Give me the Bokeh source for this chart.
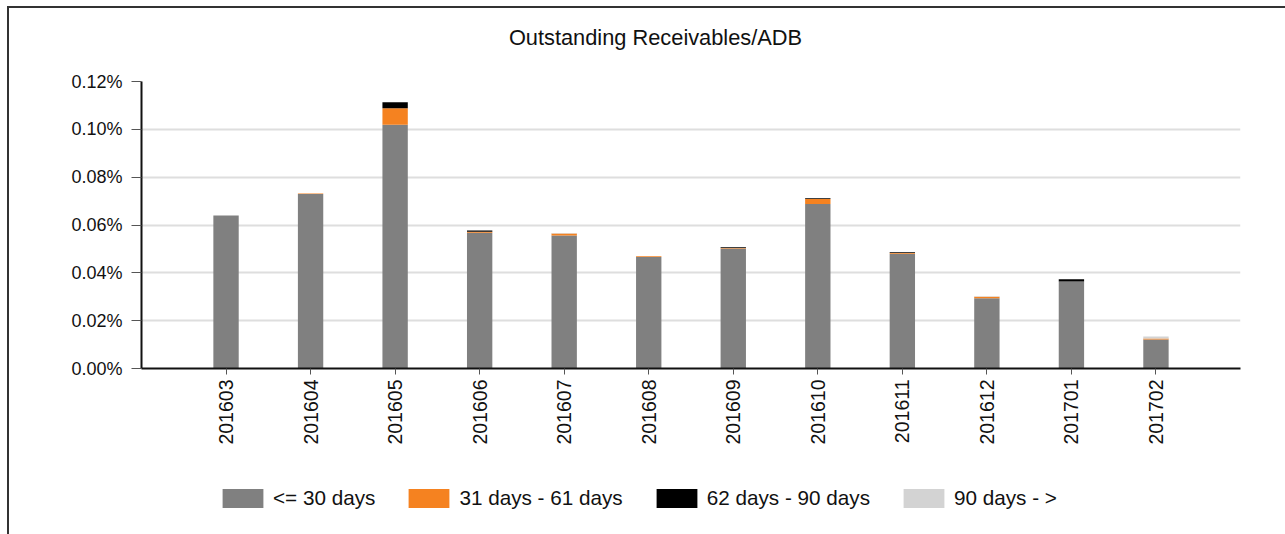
import math
from bokeh.plotting import figure
from bokeh.layouts import column
from bokeh.models import (FactorRange, Range1d, FixedTicker, PrintfTickFormatter,
                          Legend, LegendItem, Label)
from bokeh.embed import file_html
from bokeh.resources import INLINE

# ---- data (values in percent) ----
categories = ["201603", "201604", "201605", "201606", "201607", "201608",
              "201609", "201610", "201611", "201612", "201701", "201702"]
series_names = ["<= 30 days", "31 days - 61 days", "62 days - 90 days", "90 days - >"]
le_30 = [0.0640, 0.0730, 0.1019, 0.0568, 0.0556, 0.0466, 0.0502, 0.0688, 0.0480, 0.0294, 0.0364, 0.0121]
d31_61 = [0.0000, 0.0002, 0.0069, 0.0004, 0.0008, 0.0003, 0.0002, 0.0021, 0.0003, 0.0006, 0.0000, 0.0004]
d62_90 = [0.0000, 0.0000, 0.0025, 0.0005, 0.0000, 0.0000, 0.0003, 0.0003, 0.0003, 0.0000, 0.0009, 0.0000]
d90_up = [0.0000, 0.0000, 0.0000, 0.0000, 0.0003, 0.0000, 0.0000, 0.0000, 0.0000, 0.0002, 0.0000, 0.0009]
y_ticks = [0.0, 0.02, 0.04, 0.06, 0.08, 0.10, 0.12]
colors = ["#808080", "#f58220", "#000000", "#d3d3d3"]
title_text = "Outstanding Receivables/ADB"

FONT = "Liberation Sans"
keys = ["s0", "s1", "s2", "s3"]
source = dict(cat=categories, s0=le_30, s1=d31_61, s2=d62_90, s3=d90_up)

W = 1276
H0 = 63     # title strip
H1 = 387    # chart
H2 = 76     # legend strip


def strip(height, x_range, y_range):
    f = figure(width=W, height=height, output_backend="svg", toolbar_location=None,
               x_axis_type=None, y_axis_type=None, x_range=x_range, y_range=y_range,
               min_border=0)
    f.outline_line_color = None
    f.grid.grid_line_color = None
    f.background_fill_color = "white"
    f.border_fill_color = "white"
    return f


# ---- title strip (page pixel coordinates) ----
p0 = strip(H0, Range1d(141, 1240), Range1d(8 + H0, 8))
p0.add_layout(Label(x=655, y=37, text=title_text, text_align="center",
                    text_baseline="middle", text_font=FONT, text_font_size="21.8px",
                    text_color="#111111"))

# ---- main chart ----
p = figure(width=W, height=H1, output_backend="svg", toolbar_location=None,
           x_range=FactorRange(factors=categories, range_padding=0.5,
                               range_padding_units="absolute"),
           y_range=Range1d(0, 0.12),
           min_border_left=132, min_border_right=45,
           min_border_top=10, min_border_bottom=H1 - 10 - 287)
p.outline_line_color = None
p.background_fill_color = "white"
p.border_fill_color = "white"

rs = p.vbar_stack(keys, x="cat", width=0.3, color=colors, line_color=None,
                  source=source)

p.yaxis.ticker = FixedTicker(ticks=y_ticks)
p.yaxis.formatter = PrintfTickFormatter(format="%.2f%%")
p.yaxis.axis_line_color = "#111111"
p.yaxis.axis_line_width = 2
p.yaxis.major_tick_line_color = "#555555"
p.yaxis.major_tick_out = 10
p.yaxis.major_tick_in = 0
p.yaxis.minor_tick_line_color = None
p.yaxis.major_label_text_font = FONT
p.yaxis.major_label_text_font_size = "18px"
p.yaxis.major_label_text_color = "#111111"
p.yaxis.major_label_standoff = 9

p.xaxis.axis_line_color = "#111111"
p.xaxis.axis_line_width = 2
p.xaxis.major_tick_line_color = "#555555"
p.xaxis.major_tick_out = 6
p.xaxis.major_tick_in = 0
p.xaxis.minor_tick_line_color = None
p.xaxis.major_label_orientation = math.pi / 2
p.xaxis.major_label_text_font = FONT
p.xaxis.major_label_text_font_size = "19.5px"
p.xaxis.major_label_text_color = "#111111"
p.xaxis.major_label_standoff = 5

p.xgrid.grid_line_color = None
p.ygrid.grid_line_color = "#dedede"
p.ygrid.grid_line_width = 2

# ---- legend strip (bars drawn from the same data lie below its visible y range) ----
p2 = strip(H2, FactorRange(factors=categories), Range1d(1, 2))
proxies = p2.vbar_stack(keys, x="cat", width=0.3, color=colors, line_color=None,
                        source=source)
legend = Legend(items=[LegendItem(label=n, renderers=[r]) for n, r in zip(series_names, proxies)],
                orientation="horizontal", location=(76, 24),
                padding=0, margin=0, spacing=28, label_standoff=5,
                glyph_width=51, glyph_height=24, label_height=24,
                border_line_color=None, background_fill_alpha=0,
                label_text_font=FONT, label_text_font_size="20.7px",
                label_text_color="#111111")
p2.add_layout(legend)

layout = column(p0, p, p2, spacing=0,
                styles={"border-left": "2px solid #333333", "border-top": "2px solid #333333",
                        "margin-left": "7px", "margin-top": "6px"})

open("out.html", "w").write(file_html(layout, INLINE))
